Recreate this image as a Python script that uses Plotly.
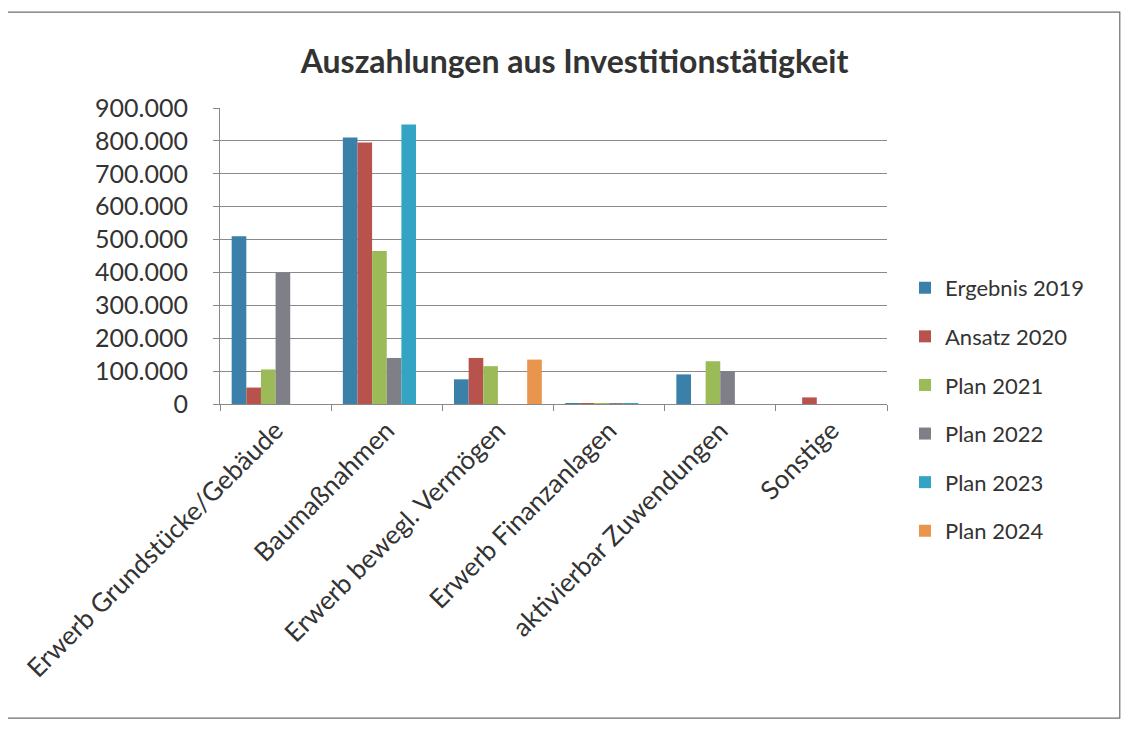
import plotly.graph_objects as go

categories = ["Erwerb Grundstücke/Gebäude", "Baumaßnahmen", "Erwerb bewegl. Vermögen",
              "Erwerb Finanzanlagen", "aktivierbar Zuwendungen", "Sonstige"]

ergebnis_2019 = [510000, 810000, 75000, 3000, 90000, 0]
ansatz_2020 = [50000, 795000, 140000, 3000, 0, 20000]
plan_2021 = [105000, 465000, 115000, 3000, 130000, 0]
plan_2022 = [400000, 140000, 0, 3000, 100000, 0]
plan_2023 = [0, 850000, 0, 3000, 0, 0]
plan_2024 = [0, 0, 135000, 0, 0, 0]

series = [
    ("Ergebnis 2019", ergebnis_2019, '#3A80A8'),
    ("Ansatz 2020", ansatz_2020, '#B8524C'),
    ("Plan 2021", plan_2021, '#9BBB59'),
    ("Plan 2022", plan_2022, '#7F7F87'),
    ("Plan 2023", plan_2023, '#34A4C4'),
    ("Plan 2024", plan_2024, '#E9954E'),
]

font_family = "Lato, 'Open Sans', sans-serif"
text_color = '#333333'

fig = go.Figure()
for name, vals, color in series:
    fig.add_trace(go.Bar(x=categories, y=vals, name=name, legendgroup=name,
                         marker=dict(color=color, line=dict(width=0))))

# page body has an 8px margin, so the figure is 8px smaller and shifted
# plot area on screen: x 220..887, y 108..404
fig.update_layout(
    width=1124, height=723,
    margin=dict(l=212, r=245, t=100, b=327, autoexpand=False),
    plot_bgcolor='white', paper_bgcolor='white',
    separators=',.',
    barmode='group', bargap=0.21, bargroupgap=0,
    font=dict(family=font_family, size=24, color=text_color),
    title=dict(text="<b>Auszahlungen aus Investitionstätigkeit</b>",
               x=0.504, xanchor='center', y=0.925, yanchor='middle',
               font=dict(family=font_family, size=32, color=text_color)),
    legend=dict(x=1.027, xanchor='left', y=0.463, yanchor='top',
                font=dict(size=22, color=text_color), tracegroupgap=17,
                itemwidth=30, bgcolor='rgba(0,0,0,0)'),
    shapes=[dict(type='rect', xref='paper', yref='paper',
                 x0=-0.322, x1=1.349, y0=-1.061, y1=1.324,
                 line=dict(color='#6f6f6f', width=1.2))],
)

fig.update_xaxes(type='category', tickangle=-45, showline=True, linecolor='#888888',
                 linewidth=1, ticks='outside', tickson='boundaries', ticklen=6,
                 tickcolor='#888888', showgrid=False, automargin=False,
                 tickfont=dict(size=26, color=text_color))
fig.update_yaxes(range=[0, 900000], dtick=100000, tickformat=',d', showline=True,
                 linecolor='#888888', linewidth=1, ticks='outside', ticklen=6,
                 tickcolor='#888888', showgrid=True, gridcolor='#8a8a8a', gridwidth=1,
                 zeroline=False, automargin=False, ticklabelstandoff=20,
                 tickfont=dict(size=25, color=text_color))

fig.write_html("out.html")
